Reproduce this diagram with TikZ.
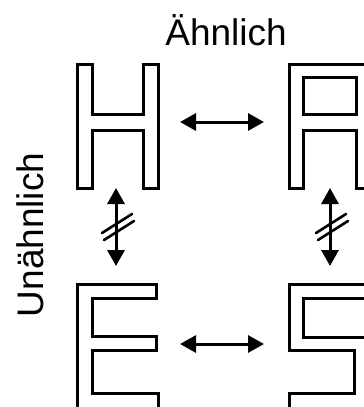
\documentclass[tikz,border=0pt]{standalone}
\usepackage{fontspec}
\setmainfont{Liberation Sans}
\usetikzlibrary{arrows.meta}
\tikzset{
  buchstabe/.style={line width=3pt},
  pfeil/.style={{Triangle[length=16pt,width=17pt]}-{Triangle[length=16pt,width=17pt]},line width=3pt},
  strich/.style={line width=2.6pt},
  titel/.style={font=\fontsize{37}{40}\selectfont,inner sep=0pt}
}
\begin{document}
\begin{tikzpicture}[line cap=round,line join=miter,x=1pt,y=-1pt]
\clip (0,0) rectangle (364,407);
% labels
\node[titel,anchor=base] (aehnlich) at (226,45) {Ähnlich};
\node[titel,anchor=base,rotate=90] (unaehnlich) at (43,235) {Unähnlich};
% H
\draw[buchstabe] (77,64) -- (92,64) -- (92,114) -- (143,114) -- (143,64) -- (158,64)
  -- (158,188) -- (143,188) -- (143,130) -- (92,130) -- (92,188) -- (77,188) -- cycle;
% A
\draw[buchstabe] (289,64) -- (371,64) -- (371,188) -- (356,188) -- (356,130) -- (303,130)
  -- (303,188) -- (289,188) -- cycle;
\draw[buchstabe] (303,77) rectangle (356,114);
% E
\draw[buchstabe] (77,284) -- (156,284) -- (156,298) -- (92,298) -- (92,336) -- (156,336)
  -- (156,350) -- (92,350) -- (92,393) -- (158,393) -- (158,412) -- (77,412) -- cycle;
% S
\draw[buchstabe] (289,284) -- (372,284) -- (372,298) -- (303,298) -- (303,337) -- (372,337)
  -- (372,412) -- (289,412) -- (289,393) -- (354,393) -- (354,350) -- (289,350) -- cycle;
% arrow ends
\coordinate (HO) at (180,122);
\coordinate (AW) at (264,122);
\coordinate (EO) at (180,344);
\coordinate (SW) at (264,344);
\coordinate (HU) at (116,188);
\coordinate (EN) at (116,266);
\coordinate (AU) at (330,188);
\coordinate (SN) at (330,266);
\draw[pfeil] (HO) -- (AW);
\draw[pfeil] (EO) -- (SW);
\draw[pfeil] (HU) -- (EN) coordinate[pos=0.5] (m1);
\draw[pfeil] (AU) -- (SN) coordinate[pos=0.5] (m2);
% not similar
\foreach \m in {m1,m2}
{
\draw[strich] ([shift={(-14,6)}]\m) -- ++(30,-19);
\draw[strich] ([shift={(-12,13)}]\m) -- ++(30,-19);
}
\end{tikzpicture}
\end{document}
